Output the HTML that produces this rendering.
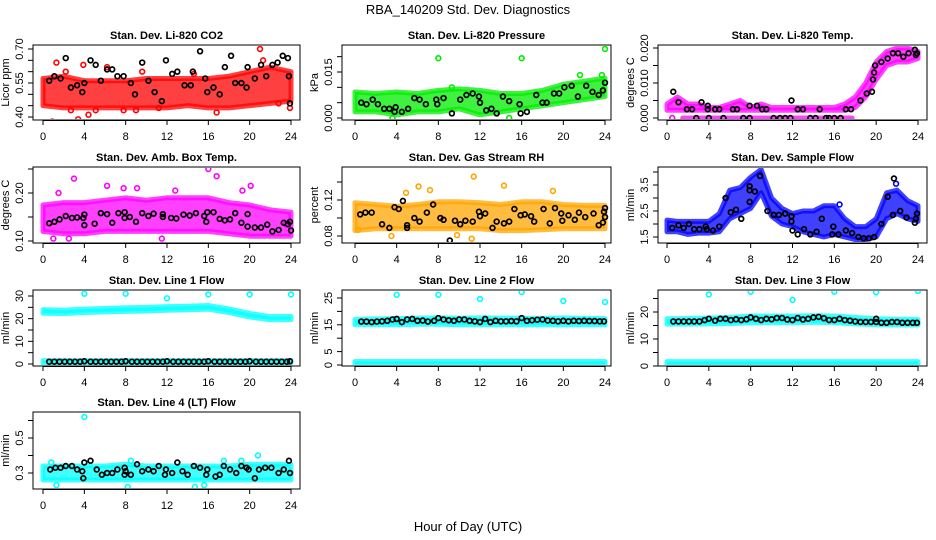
<!DOCTYPE html>
<html><head><meta charset="utf-8"><style>
body{margin:0;background:#fff}
svg{display:block;font-family:"Liberation Sans",sans-serif}
</style></head><body>
<svg id="c" width="936" height="540" xmlns="http://www.w3.org/2000/svg">
<text x="468" y="14" text-anchor="middle" font-size="13">RBA_140209  Std. Dev. Diagnostics</text>
<text x="468" y="531" text-anchor="middle" font-size="13">Hour of Day (UTC)</text>
</svg>
<script>
const hrs2=[0,2,4,6,8,10,12,14,16,18,20,22,24];
const hrs1=[0,1,2,3,4,5,6,7,8,9,10,11,12,13,14,15,16,17,18,19,20,21,22,23,24];
const hrsFull=[0,24];
// CO2
const co2Lo=[0.45,0.44,0.44,0.44,0.44,0.44,0.44,0.45,0.44,0.44,0.45,0.46,0.47];
const co2Hi=[0.57,0.58,0.56,0.56,0.56,0.57,0.57,0.57,0.57,0.58,0.60,0.62,0.60];
const co2Out=[[0.9,0.38],[1.3,0.64],[2.2,0.60],[2.7,0.43],[3.4,0.39],[3.9,0.63],[4.4,0.41],[5.1,0.43],[6.2,0.62],[7.8,0.43],[9.0,0.43],[9.6,0.60],[11.2,0.44],[16.8,0.42],[21.0,0.70],[22.8,0.46],[23.9,0.44],[21.3,0.65],[14.6,0.59]];
const co2Black=[[0.6,0.56],[1.1,0.58],[1.7,0.57],[2.2,0.66],[2.7,0.53],[3.3,0.54],[3.8,0.51],[4.0,0.55],[4.6,0.65],[5.1,0.63],[5.6,0.56],[6.2,0.61],[6.7,0.61],[7.2,0.58],[7.8,0.58],[8.5,0.55],[8.9,0.50],[9.6,0.64],[10.2,0.56],[10.8,0.51],[11.5,0.47],[11.9,0.65],[12.5,0.59],[13.0,0.60],[13.7,0.54],[14.3,0.54],[14.5,0.60],[15.2,0.69],[15.7,0.57],[15.9,0.51],[16.5,0.53],[17.1,0.50],[17.6,0.62],[18.2,0.67],[18.6,0.55],[19.2,0.55],[19.7,0.53],[19.8,0.62],[20.5,0.57],[21.1,0.63],[21.6,0.58],[22.2,0.63],[22.7,0.64],[23.2,0.67],[23.7,0.66],[23.8,0.58],[23.9,0.46]];
// Pressure
const prLo=[0.002,0.002,0.001,0.002,0.002,0.003,0.001,0.002,0.003,0.004,0.005,0.006,0.007];
const prHi=[0.0085,0.008,0.0085,0.008,0.009,0.0095,0.009,0.008,0.008,0.009,0.011,0.012,0.013];
const prOut=[[8,0.0195],[16,0.0195],[24,0.0225],[9.3,0.010],[3.6,0.0],[14.8,0.0],[21.6,0.014],[23.7,0.014]];
const prBlack=[[0.6,0.005],[1.1,0.0045],[1.7,0.006],[2.2,0.0045],[2.8,0.003],[3.3,0.003],[3.8,0.002],[3.9,0.0035],[4.5,0.002],[5.1,0.003],[5.7,0.0065],[6.2,0.006],[6.8,0.0045],[7.8,0.006],[7.9,0.0045],[8.5,0.0065],[9.3,0.0015],[10.1,0.006],[10.7,0.0075],[11.3,0.008],[11.9,0.007],[12.0,0.005],[12.6,0.0025],[13.1,0.003],[13.6,0.0015],[14.2,0.007],[14.8,0.0055],[15.8,0.0045],[15.9,0.0015],[16.5,0.002],[17.4,0.0075],[18.0,0.005],[18.4,0.005],[19.1,0.008],[19.6,0.008],[20.1,0.010],[20.8,0.0105],[21.4,0.007],[22.2,0.0105],[22.8,0.0085],[23.4,0.0075],[23.8,0.009],[24,0.0115]];
// Li-820 temp
const tpLo=[0.0022,0.0022,0.0022,0.0022,0.0022,0.0022,0.0022,0.0022,0.0022,0.0022,0.0022,0.0022,0.0022,0.0022,0.0022,0.0022,0.0022,0.0022,0.003,0.006,0.011,0.015,0.016,0.016,0.017];
const tpHi=[0.004,0.006,0.004,0.004,0.003,0.003,0.004,0.005,0.003,0.004,0.003,0.003,0.003,0.003,0.003,0.003,0.003,0.004,0.006,0.010,0.016,0.019,0.020,0.020,0.019];
const tpZeroHours=[1.5,17.7];
const tpZeroVals=[0,0];
const tpOut=[[0.5,0]];
const tpBlack=[[0.6,0.0075],[1.1,0.0045],[1.9,0.0025],[2.4,0.0025],[2.8,0],[3.3,0.0045],[3.9,0.0035],[3.9,0.0025],[4.0,0],[4.6,0.0025],[5.0,0.0025],[5.4,0],[6.3,0.0025],[6.7,0.0025],[7.3,0],[7.9,0.0035],[7.9,0],[8.6,0.0035],[9.1,0.0025],[9.5,0.0025],[10.2,0],[10.8,0],[11.3,0],[11.8,0],[11.9,0.005],[12.5,0.0025],[13.0,0.0025],[13.7,0],[14.2,0],[14.6,0.0025],[15.2,0],[15.5,0],[16.0,0],[16.6,0],[17.1,0.0025],[17.6,0.0025],[18.5,0.005],[19.1,0.007],[19.6,0.0075],[19.7,0.011],[19.8,0.013],[19.9,0.015],[20.5,0.016],[21.1,0.017],[21.6,0.0185],[22.1,0.0185],[22.6,0.0175],[23.1,0.0185],[23.7,0.0195],[23.8,0.018],[23.9,0.0185]];
// Amb box temp
const abLo=[0.12,0.115,0.115,0.12,0.12,0.12,0.12,0.12,0.12,0.115,0.11,0.11,0.11];
const abHi=[0.175,0.18,0.18,0.185,0.19,0.185,0.19,0.19,0.19,0.18,0.175,0.165,0.16];
const abOut=[[3.0,0.23],[1.5,0.20],[6.2,0.215],[9.1,0.21],[12.8,0.205],[16.0,0.25],[16.8,0.235],[20.1,0.215],[19.3,0.205],[7.8,0.21],[1.0,0.105],[2.5,0.105],[11.5,0.105],[23.5,0.135]];
const abBlack=[[0.6,0.137],[1.1,0.14],[1.6,0.145],[2.2,0.152],[2.8,0.148],[3.3,0.149],[3.9,0.148],[4.0,0.133],[4.0,0.155],[5.0,0.136],[5.6,0.158],[6.2,0.156],[6.7,0.138],[7.3,0.158],[7.9,0.16],[7.9,0.148],[8.4,0.15],[9.0,0.14],[9.6,0.158],[10.2,0.152],[10.7,0.157],[11.6,0.15],[11.6,0.156],[12.4,0.148],[12.9,0.147],[13.6,0.155],[14.2,0.153],[14.8,0.158],[15.6,0.152],[15.9,0.16],[15.8,0.14],[16.5,0.16],[17.1,0.146],[17.6,0.143],[18.1,0.145],[18.6,0.158],[19.2,0.138],[19.8,0.13],[19.8,0.156],[20.5,0.128],[21.1,0.128],[21.7,0.134],[22.2,0.12],[22.8,0.123],[23.3,0.138],[23.7,0.135],[23.9,0.14],[24,0.122]];
// RH
const rhLo=[0.086,0.088,0.088,0.088,0.088,0.088,0.088,0.086,0.086,0.087,0.088,0.088,0.088];
const rhHi=[0.117,0.115,0.113,0.115,0.118,0.118,0.117,0.115,0.118,0.118,0.115,0.114,0.114];
const rhOut=[[3.5,0.08],[6.1,0.135],[7.2,0.131],[11.4,0.146],[11.2,0.077],[14.3,0.136],[19.0,0.13],[9.8,0.081],[0.3,0.087],[4.9,0.128]];
const rhBlack=[[0.5,0.104],[1.0,0.106],[1.6,0.106],[2.6,0.093],[3.3,0.089],[3.8,0.112],[4.2,0.110],[4.6,0.119],[5.0,0.089],[5.0,0.092],[5.7,0.100],[6.2,0.096],[6.9,0.106],[7.5,0.115],[8.2,0.100],[8.5,0.098],[9.1,0.075],[9.6,0.097],[10.1,0.093],[10.6,0.097],[11.3,0.096],[11.9,0.107],[12.0,0.102],[12.5,0.105],[13.2,0.089],[13.6,0.096],[14.3,0.094],[14.8,0.096],[15.3,0.110],[15.9,0.103],[16.3,0.104],[16.9,0.102],[17.2,0.096],[18.1,0.110],[18.7,0.094],[19.2,0.111],[19.8,0.105],[19.9,0.097],[20.5,0.103],[21.1,0.098],[21.5,0.106],[22.1,0.101],[22.9,0.105],[23.4,0.092],[23.8,0.095],[23.9,0.107],[24.0,0.111],[24,0.101]];
// Sample flow
const sfLo=[1.7,1.7,1.6,1.65,1.65,1.7,2.2,2.4,2.6,3.2,2.3,2.0,1.9,1.7,1.6,1.5,1.6,1.5,1.4,1.4,1.5,2.2,2.4,2.2,2.1];
const sfHi=[2.15,2.1,2.1,2.1,2.1,2.4,3.3,3.4,3.8,4.1,3.0,2.6,2.4,2.5,2.5,2.7,2.7,2.2,1.9,1.9,2.2,3.2,3.3,2.9,2.7];
const sfOut=[[16.5,2.75],[21.9,3.55]];
const sfBlack=[[0.5,1.85],[1.1,1.95],[1.6,1.85],[2.1,2.0],[2.6,1.8],[3.1,1.8],[3.7,1.9],[3.8,1.8],[4.4,1.75],[5.0,1.9],[5.6,3.0],[6.1,2.45],[6.6,2.55],[7.1,2.2],[7.9,2.85],[7.9,3.3],[7.9,3.45],[8.4,3.25],[8.9,3.85],[9.6,2.5],[10.2,2.35],[10.7,2.35],[11.3,2.4],[11.9,2.3],[11.9,2.1],[12.0,1.75],[12.5,1.6],[13.1,1.8],[13.7,1.6],[14.3,1.7],[14.8,2.2],[15.8,1.6],[15.9,1.9],[16.4,1.6],[17.1,1.75],[17.7,1.65],[18.3,1.5],[18.8,1.45],[19.3,1.45],[19.8,1.5],[20.5,2.0],[21.1,3.05],[21.6,2.35],[21.7,3.75],[22.3,2.5],[22.9,2.25],[23.7,2.05],[23.8,2.2],[23.9,2.4]];
// Line 1
const l1Lo=[22.4,22.3,22.7,23.0,23.2,23.4,23.7,23.9,24.2,22.7,20.7,19.5,19.6];
const l1Hi=[24.0,23.7,24.2,24.5,24.8,25.0,25.3,25.5,25.8,24.3,22.3,20.9,21.0];
const l1BaseLo=[0.5,0.5];
const l1BaseHi=[1.5,1.5];
const l1Out=[[4,31],[8,31],[12,29],[16,30.7],[20,30.7],[24,30.7]];
const l1BlackX=[0.6,1.1,1.6,2.1,2.6,3.1,3.6,4.0,4.6,5.1,5.6,6.1,6.6,7.1,7.6,8.0,8.6,9.1,9.6,10.1,10.6,11.1,11.6,12.0,12.6,13.1,13.6,14.1,14.6,15.1,15.6,16.0,16.6,17.1,17.6,18.1,18.6,19.1,19.6,20.0,20.6,21.1,21.6,22.1,22.6,23.1,23.6,23.9];
const l1BlackY=[1,1,1,1,1,1,1,1.2,1,1,1,1,1,1,1,1.2,1,1,1,1,1,1,1,1.2,1,1,1,1,1,1,1,1.2,1,1,1,1,1,1,1,1.2,1,1,1,1,1,1,1,1.2];
// Line 2
const l2Lo=[15.0,15.0,15.0,15.2,15.2,15.0,15.0,15.0,15.0,15.0,15.0,15.0,15.0];
const l2Hi=[17.0,17.2,17.3,17.5,17.6,17.5,17.6,17.5,17.5,17.4,17.6,17.4,17.3];
const l2BaseLo=[0.3,0.3];
const l2BaseHi=[1.3,1.3];
const l2Out=[[4,26.2],[8,26.2],[12,24.6],[16,27.2],[20,23.9],[24,23.5]];
const l2Black=[[0.6,16.2],[1.1,16.2],[1.6,16.0],[2.1,16.2],[2.6,16.3],[3.1,16.5],[3.6,17.0],[4.0,17.2],[4.5,16.0],[5.0,17.0],[5.5,17.2],[6.0,16.5],[6.5,16.6],[7.0,16.2],[7.6,16.5],[8.0,17.5],[8.5,17.0],[9.0,16.7],[9.5,16.5],[10.0,17.0],[10.5,17.0],[11.0,16.5],[11.5,16.3],[12.0,16.0],[12.5,17.2],[13.0,16.0],[13.5,16.5],[14.0,16.3],[14.5,16.3],[15.0,16.4],[15.5,16.3],[16.0,17.5],[16.5,16.5],[17.0,16.7],[17.5,16.9],[18.0,17.0],[18.5,16.6],[19.0,16.5],[19.5,16.3],[20.0,16.5],[20.5,16.3],[21.0,16.5],[21.5,16.4],[22.0,16.5],[22.5,16.4],[23.0,16.4],[23.5,16.3],[23.9,16.3]];
// Line 3
const l3Lo=[15.5,15.5,15.6,15.7,16.0,16.0,16.0,16.2,16.0,15.6,15.3,15.2,15.2];
const l3Hi=[17.5,17.6,17.8,18.0,18.5,18.5,18.5,18.6,18.5,18.0,17.5,17.3,17.2];
const l3BaseLo=[0.5,0.5];
const l3BaseHi=[1.6,1.6];
const l3Out=[[4,26.5],[8,27.5],[12,24.5],[16,27.5],[20,27.3],[24,27.8]];
const l3Black=[[0.6,16.5],[1.1,16.5],[1.6,16.5],[2.1,16.5],[2.6,16.5],[3.1,16.5],[3.6,17.0],[4.0,17.5],[4.6,16.8],[5.1,17.5],[5.6,17.5],[6.1,17.0],[6.6,17.3],[7.1,17.0],[7.6,17.3],[8.0,18.0],[8.5,17.5],[9.0,17.0],[9.5,17.5],[10.0,17.3],[10.5,17.8],[11.0,17.8],[11.5,17.2],[12.0,17.0],[12.5,17.8],[13.0,17.2],[13.5,17.5],[14.0,18.0],[14.5,18.2],[15.0,17.7],[15.5,17.0],[16.0,17.0],[16.5,17.5],[17.0,17.0],[17.5,16.8],[18.0,16.5],[18.5,16.3],[19.0,16.3],[19.5,16.3],[20.0,17.5],[20.0,16.3],[20.5,16.0],[21.0,16.0],[21.5,16.3],[22.0,16.3],[22.5,16.0],[23.0,16.0],[23.5,16.0],[23.9,16.0]];
// Line 4
const l4Lo=[0.26,0.26,0.26,0.26,0.26,0.26,0.26,0.26,0.26,0.26,0.26,0.26,0.26];
const l4Hi=[0.34,0.34,0.34,0.34,0.35,0.34,0.34,0.34,0.34,0.34,0.35,0.35,0.35];
const l4Out=[[4,0.62],[12,0.69],[20,0.68],[20.8,0.40],[8.5,0.37],[17.5,0.37],[0.8,0.36],[8.2,0.22],[15.6,0.23],[1.3,0.23],[14.7,0.22],[19.2,0.37]];
const l4Black=[[0.7,0.32],[1.2,0.33],[1.7,0.33],[2.2,0.34],[2.8,0.34],[3.3,0.32],[3.8,0.31],[3.9,0.27],[4.0,0.36],[4.6,0.37],[5.2,0.32],[5.7,0.29],[6.2,0.30],[6.7,0.30],[7.2,0.32],[7.9,0.33],[7.9,0.29],[8.0,0.31],[8.5,0.29],[9.1,0.35],[9.6,0.31],[10.2,0.32],[10.7,0.31],[11.2,0.34],[11.8,0.29],[11.9,0.32],[12.5,0.30],[13.0,0.36],[13.5,0.31],[14.0,0.29],[14.6,0.34],[15.2,0.33],[15.8,0.29],[15.9,0.32],[16.7,0.28],[17.1,0.29],[17.5,0.34],[18.1,0.32],[18.7,0.30],[19.2,0.34],[19.7,0.33],[19.9,0.32],[20.5,0.27],[20.9,0.32],[21.5,0.33],[22.1,0.33],[22.8,0.30],[23.3,0.32],[23.8,0.37],[23.9,0.30]];

const panels=[
 {id:'co2',title:'Stan. Dev. Li-820 CO2',yl:'Licor ppm',col:0,row:0,color:'#ff0000',y0:0.40,p0:117,y1:0.70,p1:49,ticks:[0.40,0.45,0.50,0.55,0.60,0.65,0.70],labels:[['0.40',0.40],['0.55',0.55],['0.70',0.70]],
  bands:[[hrs2,co2Lo,co2Hi]],out:co2Out,black:co2Black},
 {id:'pressure',title:'Stan. Dev. Li-820 Pressure',yl:'kPa',col:1,row:0,color:'#00ee00',y0:0,p0:118,y1:0.015,p1:72,ticks:[0,0.005,0.010,0.015,0.020],labels:[['0.000',0],['0.015',0.015]],
  bands:[[hrs2,prLo,prHi]],out:prOut,black:prBlack},
 {id:'licor-temp',title:'Stan. Dev. Li-820 Temp.',yl:'degrees C',col:2,row:0,color:'#ff00ff',y0:0,p0:118,y1:0.020,p1:48,ticks:[0,0.005,0.010,0.015,0.020],labels:[['0.000',0],['0.010',0.010],['0.020',0.020]],
  bands:[[hrs1,tpLo,tpHi],[tpZeroHours,tpZeroVals,tpZeroVals]],out:tpOut,black:tpBlack},
 {id:'amb-temp',title:'Stan. Dev. Amb. Box Temp.',yl:'degrees C',col:0,row:1,color:'#ff00ff',y0:0.10,p0:241,y1:0.20,p1:193,ticks:[0.10,0.15,0.20,0.25],labels:[['0.10',0.10],['0.20',0.20]],
  bands:[[hrs2,abLo,abHi]],out:abOut,black:abBlack},
 {id:'rh',title:'Stan. Dev. Gas Stream RH',yl:'percent',col:1,row:1,color:'#ffa500',y0:0.08,p0:236,y1:0.12,p1:200,ticks:[0.08,0.10,0.12,0.14],labels:[['0.08',0.08],['0.12',0.12]],
  bands:[[hrs2,rhLo,rhHi]],out:rhOut,black:rhBlack},
 {id:'sample-flow',title:'Stan. Dev. Sample Flow',yl:'ml/min',col:2,row:1,color:'#0000ff',y0:1.5,p0:237,y1:3.5,p1:185,ticks:[1.5,2,2.5,3,3.5,4],labels:[['1.5',1.5],['2.5',2.5],['3.5',3.5]],
  bands:[[hrs1,sfLo,sfHi]],out:sfOut,black:sfBlack},
 {id:'line1',title:'Stan. Dev. Line 1 Flow',yl:'ml/min',col:0,row:2,color:'#00ffff',y0:0,p0:364,y1:30,p1:296,ticks:[0,5,10,15,20,25,30],labels:[['0',0],['10',10],['20',20],['30',30]],
  bands:[[hrs2,l1Lo,l1Hi],[hrsFull,l1BaseLo,l1BaseHi]],out:l1Out,black:l1BlackX.map((x,i)=>[x,l1BlackY[i]])},
 {id:'line2',title:'Stan. Dev. Line 2 Flow',yl:'ml/min',col:1,row:2,color:'#00ffff',y0:0,p0:365,y1:25,p1:298,ticks:[0,5,10,15,20,25],labels:[['0',0],['5',5],['15',15],['25',25]],
  bands:[[hrs2,l2Lo,l2Hi],[hrsFull,l2BaseLo,l2BaseHi]],out:l2Out,black:l2Black},
 {id:'line3',title:'Stan. Dev. Line 3 Flow',yl:'ml/min',col:2,row:2,color:'#00ffff',y0:0,p0:366,y1:20,p1:312,ticks:[0,5,10,15,20,25],labels:[['0',0],['10',10],['20',20]],
  bands:[[hrs2,l3Lo,l3Hi],[hrsFull,l3BaseLo,l3BaseHi]],out:l3Out,black:l3Black},
 {id:'line4',title:'Stan. Dev. Line 4 (LT) Flow',yl:'ml/min',col:0,row:3,color:'#00ffff',y0:0.3,p0:473,y1:0.5,p1:438,ticks:[0.3,0.4,0.5,0.6],labels:[['0.3',0.3],['0.5',0.5]],
  bands:[[hrs2,l4Lo,l4Hi]],out:l4Out,black:l4Black}
];
const colL=[33,342,658],colR=[300,611,927],h0=[43,355,667],h24=[291,605,918];
const rowT=[45,167,290,412],rowB=[120,243,366,489];
const xTicks=[0,4,8,12,16,20,24];
const NS='http://www.w3.org/2000/svg';
const svg=document.getElementById('c');
function mk(tag,attrs,parent){const e=document.createElementNS(NS,tag);for(const k in attrs)e.setAttribute(k,attrs[k]);(parent||svg).appendChild(e);return e;}
panels.forEach(p=>{
 const g=mk('g',{});
 
 
 const L=colL[p.col],R=colR[p.col],T=rowT[p.row],B=rowB[p.row];
 const xs=h=>h0[p.col]+(h/24)*(h24[p.col]-h0[p.col]);
 const ys=v=>p.p0+(v-p.y0)*(p.p1-p.p0)/(p.y1-p.y0);
 const clip='clip-'+p.id;
 const cp=mk('clipPath',{id:clip},g);mk('rect',{x:L+1,y:T+1,width:R-L-2,height:B-T-2},cp);
 const data=mk('g',{'clip-path':'url(#'+clip+')'},g);
 
 
 p.bands.forEach(b=>{
  const [hx,lo,hi]=b;
  const pts=hx.map((h,i)=>xs(h)+','+ys(hi[i])).concat(hx.slice().reverse().map((h,i)=>xs(h)+','+ys(lo[hx.length-1-i])));
  const poly=mk('polygon',{points:pts.join(' '),fill:p.color,'fill-opacity':0.75,stroke:p.color,'stroke-opacity':0.75,'stroke-width':5,'stroke-linejoin':'round'},data);
  
  
 });
 p.out.forEach(d=>{
  const c=mk('circle',{cx:xs(d[0]),cy:ys(d[1]),r:2.4,fill:'none',stroke:p.color,'stroke-width':1.6},data);
  
  
 });
 p.black.forEach(d=>{
  const c=mk('circle',{cx:xs(d[0]),cy:ys(d[1]),r:2.4,fill:'none',stroke:'#000','stroke-width':1.7},data);
  
  
 });
 const box=mk('rect',{x:L,y:T,width:R-L,height:B-T,fill:'none',stroke:'#000','stroke-width':1},g);
 
 
 const t=mk('text',{x:(L+R)/2,y:T-6,'text-anchor':'middle','font-size':11,'font-weight':'bold'},g);
 t.textContent=p.title;
 
 
 xTicks.forEach(h=>{
  mk('line',{x1:xs(h),x2:xs(h),y1:B,y2:B+5,stroke:'#000'},g);
  const tl=mk('text',{x:xs(h),y:B+20,'text-anchor':'middle','font-size':11},g);
  tl.textContent=h;
  
  
 });
 mk('line',{x1:xs(0),x2:xs(24),y1:B+0.5,y2:B+0.5,stroke:'#000'},g);
 p.ticks.forEach(v=>{const y=ys(v);if(y<T-1||y>B+1)return;mk('line',{x1:L-5,x2:L,y1:y,y2:y,stroke:'#000'},g);});
 p.labels.forEach(l=>{
  const y=ys(l[1]);
  const tl=mk('text',{x:L-10,y:y,'text-anchor':'middle','font-size':11,transform:'rotate(-90 '+(L-10)+' '+y+')'},g);
  tl.textContent=l[0];
  
  
 });
 const yl=mk('text',{x:L-24,y:(T+B)/2,'text-anchor':'middle','font-size':11,transform:'rotate(-90 '+(L-24)+' '+((T+B)/2)+')'},g);
 yl.textContent=p.yl;
 
 
});
</script>
</body></html>
